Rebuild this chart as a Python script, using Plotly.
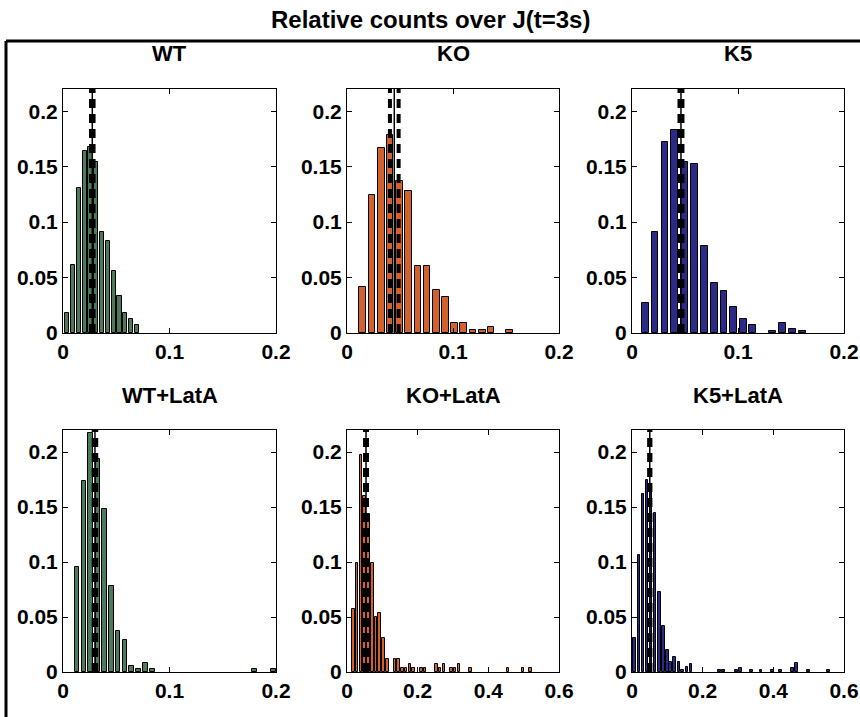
import plotly.graph_objects as go
from plotly.subplots import make_subplots

W, H = 860, 717

# ---- data ----
titles = ["WT", "KO", "K5", "WT+LatA", "KO+LatA", "K5+LatA"]

wt_x = [0.0035, 0.0092, 0.0148, 0.0203, 0.0258, 0.0313, 0.0368, 0.0422, 0.0476,
        0.0530, 0.0584, 0.0638, 0.0692]
wt_y = [0.018, 0.061, 0.131, 0.164, 0.168, 0.154, 0.091, 0.083, 0.056,
        0.033, 0.018, 0.013, 0.0075]

ko_x = [0.0148, 0.0236, 0.0324, 0.0405, 0.0494, 0.0582, 0.0670, 0.0755, 0.0843,
        0.0928, 0.1016, 0.1100, 0.1190, 0.1277, 0.1360, 0.1535]
ko_y = [0.0416, 0.1247, 0.1666, 0.1786, 0.1370, 0.1280, 0.0600, 0.0600, 0.0386,
        0.0325, 0.0090, 0.0090, 0.0030, 0.0030, 0.0057, 0.0030]

k5_x = [0.0126, 0.0217, 0.0311, 0.0400, 0.0497, 0.0590, 0.0680, 0.0777, 0.0868,
        0.0959, 0.1050, 0.1140, 0.1327, 0.1418, 0.1513, 0.1607]
k5_y = [0.0274, 0.0907, 0.1720, 0.1830, 0.1540, 0.1520, 0.0780, 0.0450, 0.0380,
        0.0235, 0.0127, 0.0072, 0.0020, 0.0093, 0.0040, 0.0020]

wtl_x = [0.0132, 0.0197, 0.0257, 0.0329, 0.0389, 0.0455, 0.0517, 0.0583, 0.0646,
         0.0708, 0.0771, 0.0837, 0.1796, 0.1980]
wtl_y = [0.0955, 0.1740, 0.2175, 0.1940, 0.1480, 0.0785, 0.0375, 0.0287, 0.0051,
         0.0027, 0.0082, 0.0027, 0.0027, 0.0027]

kol_x = [0.0180, 0.0287, 0.0393, 0.0500, 0.0607, 0.0713, 0.0820, 0.0927, 0.1033,
         0.1140, 0.1354, 0.1460, 0.1567, 0.1674, 0.1780, 0.1887, 0.2101, 0.2207,
         0.2527, 0.2634, 0.2741, 0.2954, 0.3061, 0.3168, 0.3488, 0.4555, 0.4982,
         0.5195]
kol_y = [0.0577, 0.0990, 0.1976, 0.1600, 0.1440, 0.0990, 0.0500, 0.0535, 0.0307,
         0.0120, 0.0120, 0.0120, 0.0036, 0.0036, 0.0073, 0.0036, 0.0036, 0.0036,
         0.0073, 0.0036, 0.0073, 0.0036, 0.0036, 0.0073, 0.0036, 0.0036, 0.0036,
         0.0036]

k5l_x = [0.0076, 0.0199, 0.0313, 0.0427, 0.0540, 0.0654, 0.0768, 0.0882, 0.0995,
         0.1100, 0.1213, 0.1327, 0.1440, 0.1555, 0.1668, 0.2480, 0.2600, 0.2960,
         0.3060, 0.3390, 0.3650, 0.3970, 0.4210, 0.4550, 0.4660, 0.5000, 0.5570]
k5l_y = [0.0310, 0.1060, 0.1620, 0.1750, 0.1650, 0.1450, 0.0730, 0.0420, 0.0200,
         0.0090, 0.0135, 0.0090, 0.0020, 0.0045, 0.0070, 0.0018, 0.0018, 0.0018,
         0.0036, 0.0018, 0.0018, 0.0018, 0.0018, 0.0036, 0.0082, 0.0018, 0.0018]

# mean J and its error for every panel
mean_j = [0.0275, 0.0446, 0.0462, 0.0300, 0.0538, 0.0503]
err_j = [0.0012, 0.0041, 0.0014, 0.0012, 0.0028, 0.0018]

bin_w = [0.0055, 0.0087, 0.0093, 0.0064, 0.0107, 0.0112]
x_max = [0.2, 0.2, 0.2, 0.2, 0.6, 0.6]
x_ticks = [[0, 0.1, 0.2], [0, 0.1, 0.2], [0, 0.1, 0.2], [0, 0.1, 0.2],
           [0, 0.2, 0.4, 0.6], [0, 0.2, 0.4, 0.6]]
y_ticks = [0, 0.05, 0.1, 0.15, 0.2]

COLORS = {"WT": "#4e7a5b", "KO": "#d3612b", "K5": "#2b2a87"}
bar_color = [COLORS["WT"], COLORS["KO"], COLORS["K5"],
             COLORS["WT"], COLORS["KO"], COLORS["K5"]]

series = [(wt_x, wt_y), (ko_x, ko_y), (k5_x, k5_y),
          (wtl_x, wtl_y), (kol_x, kol_y), (k5l_x, k5l_y)]

FONT = "Liberation Sans, Arial, Helvetica, sans-serif"

# pixel boxes of the axes in the reference (left, right, top, bottom)
col_px = [(63, 276), (347, 559), (632, 844)]
row_px = [(89, 333), (430, 672)]

fig = make_subplots(rows=2, cols=3)

for i, (xs, ys) in enumerate(series):
    r, c = i // 3 + 1, i % 3 + 1
    fig.add_trace(go.Bar(
        x=xs, y=ys, width=bin_w[i] * 0.7,
        marker=dict(color=bar_color[i], line=dict(color="black", width=1)),
        showlegend=False,
    ), row=r, col=c)

    # thick dashed lines at mean +- error, thin solid line at the mean
    for off in (-err_j[i], err_j[i]):
        fig.add_vline(x=mean_j[i] + off, row=r, col=c,
                      line=dict(color="black", width=4, dash="9px,6px"))
    fig.add_vline(x=mean_j[i], row=r, col=c, line=dict(color="black", width=1.5))

    l, rr = col_px[c - 1]
    t, b = row_px[r - 1]
    fig.update_xaxes(domain=[l / W, rr / W], range=[0, x_max[i]], tickvals=x_ticks[i],
                     ticktext=[f"{v:g}" for v in x_ticks[i]], row=r, col=c)
    fig.update_yaxes(domain=[1 - b / H, 1 - t / H], range=[0, 0.22], tickvals=y_ticks,
                     ticktext=[f"{v:g}" for v in y_ticks], row=r, col=c)

    fig.add_annotation(text=f"<b>{titles[i]}</b>", xref="paper", yref="paper",
                       x=(l + rr) / 2 / W, y=1 - (t - 35) / H, showarrow=False,
                       xanchor="center", yanchor="middle",
                       font=dict(size=22, color="black", family=FONT))

axis_style = dict(showline=True, linecolor="black", linewidth=1, mirror="ticks",
                  ticks="inside", ticklen=5, tickcolor="black", showgrid=False,
                  zeroline=False, automargin=False,
                  tickfont=dict(size=21, color="black", family=FONT, weight="bold"))
fig.update_xaxes(**axis_style)
fig.update_yaxes(**axis_style)

# outer frame: top and left edges only
fig.add_shape(type="line", xref="paper", yref="paper",
              x0=6 / W, y0=0, x1=6 / W, y1=1 - 41 / H,
              line=dict(color="black", width=3))
fig.add_shape(type="line", xref="paper", yref="paper",
              x0=6 / W, y0=1 - 41 / H, x1=1, y1=1 - 41 / H,
              line=dict(color="black", width=3))

fig.add_annotation(text="<b>Relative counts over J(t=3s)</b>", xref="paper", yref="paper",
                   x=0.5, y=1 - 20 / H, showarrow=False, xanchor="center",
                   yanchor="middle", font=dict(size=24, color="black", family=FONT))

fig.update_layout(
    width=W, height=H, autosize=False,
    margin=dict(l=0, r=0, t=0, b=0),
    paper_bgcolor="white", plot_bgcolor="white",
    bargap=0, barmode="overlay",
)

# page body has a default 8px margin; drop it so the figure fills the window
fig.write_html("out.html", config={"displayModeBar": False},
               post_script="document.body.style.margin='0';")
